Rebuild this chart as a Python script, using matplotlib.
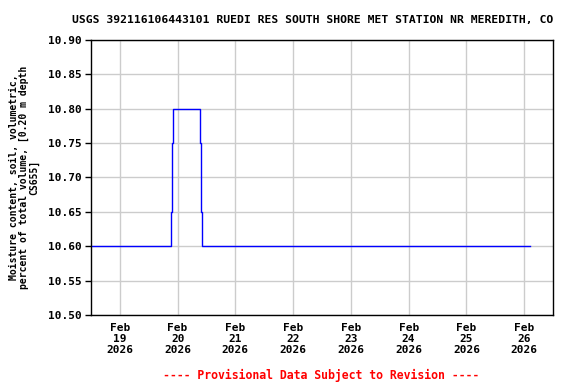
import matplotlib
matplotlib.use('Agg')
import matplotlib.pyplot as plt
import matplotlib.dates as mdates
import numpy as np

# Readings (steps)
times = np.array(['2026-02-18T12:00', '2026-02-19T21:20', '2026-02-19T21:45',
                  '2026-02-19T22:10', '2026-02-20T09:25', '2026-02-20T09:50',
                  '2026-02-20T10:20', '2026-02-26T02:30'], dtype='datetime64[m]')
values = [10.60, 10.65, 10.75, 10.80, 10.75, 10.65, 10.60, 10.60]

yticks = [10.50, 10.55, 10.60, 10.65, 10.70, 10.75, 10.80, 10.85, 10.90]
tick_days = np.arange(np.datetime64('2026-02-19'), np.datetime64('2026-02-27'))

plt.rcParams['font.family'] = ['DejaVu Sans Mono']
plt.rcParams['font.weight'] = 'bold'

fig = plt.figure(figsize=(5.76, 3.84), dpi=100)
ax = fig.add_axes([91 / 576, 1 - 315 / 384, 462 / 576, 275 / 384])

ax.plot(times.astype('datetime64[s]').astype(object), values, color='#0000ff',
        linewidth=1, drawstyle='steps-post')

ax.set_xlim(np.datetime64('2026-02-18T12:00').astype(object),
            np.datetime64('2026-02-26T12:00').astype(object))
ax.set_ylim(10.50, 10.90)
ax.set_yticks(yticks)
ax.set_yticklabels([f'{v:.2f}' for v in yticks], fontsize=8, fontweight='bold')
ax.set_xticks(tick_days.astype('datetime64[s]').astype(object))
ax.xaxis.set_major_formatter(mdates.DateFormatter('%b\n%d\n%Y'))
for lbl in ax.get_xticklabels():
    lbl.set_fontsize(8)
    lbl.set_fontweight('bold')
    lbl.set_linespacing(1.1)

ax.grid(True, color='#cccccc', linewidth=1)
ax.set_axisbelow(True)
ax.tick_params(axis='y', length=4, width=1, pad=3)
ax.tick_params(axis='x', length=0, pad=6)
for s in ax.spines.values():
    s.set_linewidth(1)

ax.set_ylabel('Moisture content, soil, volumetric,\npercent of total volume, [0.20 m depth\nCS655]',
              fontsize=7, fontweight='bold', labelpad=6, linespacing=1.0)

fig.text(553 / 576, 1 - 20 / 384,
         'USGS 392116106443101 RUEDI RES SOUTH SHORE MET STATION NR MEREDITH, CO',
         ha='right', va='center', fontsize=8.2, fontweight='bold')
fig.text(321 / 576, 1 - 375 / 384, '---- Provisional Data Subject to Revision ----',
         ha='center', va='center', fontsize=8.3, fontweight='bold', color='red')

fig.savefig('out.png', dpi=100, facecolor='white')
